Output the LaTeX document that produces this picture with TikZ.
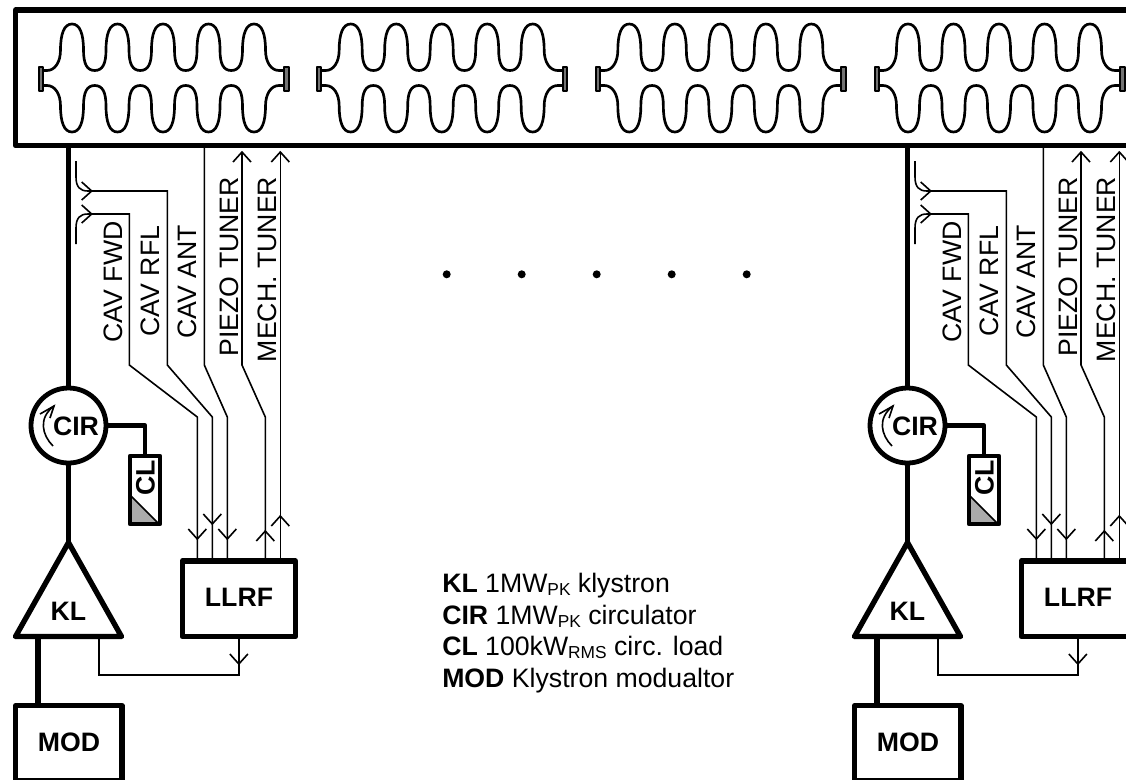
\documentclass[tikz,border=0pt]{standalone}
\usepackage{fontspec}
\setmainfont{Liberation Sans}
\newcommand{\lblfont}{\fontsize{20}{22}\selectfont}
\newcommand{\lsub}[1]{\raisebox{-2.4pt}{\fontsize{13}{14}\selectfont #1}}
% open arrow tips drawn on a line: x, y of the tip
\newcommand{\tipdown}[2]{\draw[sig] ({#1-9},{#2-10}) -- (#1,#2) -- ({#1+9},{#2-10});}
\newcommand{\tipup}[2]{\draw[sig] ({#1-9},{#2+10}) -- (#1,#2) -- ({#1+9},{#2+10});}
\newcommand{\tipright}[2]{\draw[sig] ({#1-10},{#2-9}) -- (#1,#2) -- ({#1-10},{#2+9});}
\newcommand{\halfcavity}[1]{%
  \begin{scope}[shift={(0,78)},yscale=#1]
    \draw[cavline] (42,-7.5) -- (47,-7.5) .. controls (55,-7.5) and (60.5,-16) .. (60.5,-28)
      .. controls (60.5,-44) and (64,-54) .. (72,-54)
      \foreach \k [evaluate=\k as \c using 72+45.5*\k] in {0,1,2,3} {
        .. controls ({\c+8},-54) and ({\c+11.5},-44) .. ({\c+11.5},-28)
        .. controls ({\c+11.5},-14) and ({\c+15},-7.5) .. ({\c+22.75},-7.5)
        .. controls ({\c+30.5},-7.5) and ({\c+34},-14) .. ({\c+34},-28)
        .. controls ({\c+34},-44) and ({\c+37.5},-54) .. ({\c+45.5},-54)
      }
      .. controls (262,-54) and (265.5,-44) .. (265.5,-28)
      .. controls (265.5,-16) and (271,-7.5) .. (279,-7.5) -- (285,-7.5);
  \end{scope}}
\tikzset{
  heavy/.style={line width=4pt,line join=round},
  medium/.style={line width=3.6pt,line join=round},
  sig/.style={line width=1.2pt,line join=miter},
  cavline/.style={line width=2pt,line cap=round},
  flange/.style={line width=1.5pt,fill=black!55,draw=black,line join=round},
  block/.style={draw,heavy,rectangle,inner sep=0pt,outer sep=0pt},
  lbl/.style={font=\lblfont,inner sep=0pt,text height=14.3pt,text depth=0pt},
  blbl/.style={lbl,font=\lblfont\bfseries},
  legend/.style={font=\lblfont,inner sep=0pt,anchor=base west},
}
\begin{document}
\begin{tikzpicture}[x=0.75pt,y=-0.75pt]
\useasboundingbox (0,0) rectangle (1126,779);
\clip (0,0) rectangle (1126,779);
\fill[white] (0,0) rectangle (1126,779);
% cryomodule
\node[block,minimum width=1184.5*0.75pt,minimum height=135.7*0.75pt] (cryo) at (607.75,77.85) {};
% cavities
\foreach \cav in {0,1,2,3} {
  \begin{scope}[xshift=\cav*278.67*0.75pt]
    \halfcavity{1}
    \halfcavity{-1}
    \draw[flange] (38.5,66.5) rectangle (42.5,90.5);
    \draw[flange] (284,66.5) rectangle (288.5,90.5);
  \end{scope}
}
% dots
\foreach \i in {0,...,4} {
  \fill ({446.7+75*\i},274.3) circle (4);
}
% the two RF stations
\foreach \o/\p in {0/a,839/b} {
\begin{scope}[xshift=\o*0.75pt]
  % blocks
  \node[draw,medium,circle,inner sep=0pt,outer sep=0pt,minimum size=75*0.75pt] (\p-cir) at (68.5,425.5) {};
  \node[blbl] (\p-cirt) at (76,425.5) {CIR};
  \fill[black!33] (131,496) -- (158,523) -- (131,523) -- cycle;
  \node[draw,line width=3.2pt,line join=round,rectangle,inner sep=0pt,outer sep=0pt,
        minimum width=30*0.75pt,minimum height=68*0.75pt] (\p-cl) at (145,490) {};
  \draw[line width=1.1pt] (131,496) -- (158,523);
  \node[blbl,rotate=90] (\p-clt) at (145,477.5) {CL};
  \node[block,minimum width=113.3*0.75pt,minimum height=75.5*0.75pt] (\p-llrf) at (238.85,598.75) {};
  \node[blbl] (\p-llrft) at (239,597) {LLRF};
  \node[block,minimum width=106.5*0.75pt,minimum height=75.3*0.75pt] (\p-mod) at (68.75,743.35) {};
  \node[blbl] (\p-modt) at (69,741.6) {MOD};
  \coordinate (\p-apex) at (68.5,542.5);
  \coordinate (\p-bl) at (15.5,636.5);
  \coordinate (\p-br) at (121.5,636.5);
  \draw[heavy] (\p-apex) -- (\p-br) -- (\p-bl) -- cycle;
  \node[blbl] (\p-klt) at (68.5,610.7) {KL};
  % heavy RF line
  \draw[heavy] (cryo.south -| \p-cir.north) -- (\p-cir.north);
  \draw[medium] (\p-cir.south) -- (\p-apex);
  \coordinate (\p-klmod) at (38,636.5);
  \draw[heavy] (\p-klmod) -- (\p-klmod |- \p-mod.north);
  \coordinate (\p-clk) at (\p-cl.north |- \p-cir.east);
  \draw[medium] (\p-cir.east) -- (\p-clk) -- (\p-cl.north);
  % circulator direction
  \draw[line width=1.2pt] (53,446) .. controls (42,435) and (38,418) .. (54,406);
  \draw[line width=1.2pt] (40,414) -- (54,406) -- (50,418);
  % klystron drive
  \coordinate (\p-fb) at (98.7,636.5);
  \coordinate (\p-fbc) at (\p-llrf.south |- 0,675);
  \draw[sig] (\p-fb) |- (\p-fbc) -- (\p-llrf.south);
  \tipdown{238.85}{664}
  % signal lines
  \coordinate (\p-in1) at (197.3,561);
  \coordinate (\p-in2) at (212.3,561);
  \coordinate (\p-in3) at (227.3,561);
  \coordinate (\p-out1) at (265.3,561);
  \coordinate (\p-out2) at (280.3,561);
  \coordinate (\p-fwd) at (76,244);
  \coordinate (\p-rfl) at (76,161);
  \coordinate (\p-tipa) at (242,152);
  \coordinate (\p-tipb) at (280.3,152);
  \draw[sig] (\p-fwd) -- (76,228) .. controls (76,218) and (80,214) .. (88,214)
     -- (129.3,214) -- (129.3,365) -- (197.3,417) -- (\p-in1);
  \draw[sig] (\p-rfl) -- (76,177) .. controls (76,187) and (80,191) .. (88,191)
     -- (167.3,191) -- (167.3,365) -- (212.3,417) -- (\p-in2);
  \draw[sig] (204.3,145.7) -- (204.3,365) -- (227.3,417) -- (\p-in3);
  \draw[sig] (\p-tipa) -- (242,365) -- (265.3,417) -- (\p-out1);
  \draw[sig] (\p-tipb) -- (\p-out2);
  \tipright{91.7}{191}
  \tipright{91.7}{214}
  \tipup{242}{152}
  \tipup{280.3}{152}
  \tipdown{197.3}{539}
  \tipdown{212.3}{524}
  \tipdown{227.3}{539}
  \tipup{265.3}{531}
  \tipup{280.3}{516}
  % signal labels
  \node[lbl,rotate=90] (\p-l1) at (112.7,282) {CAV FWD};
  \node[lbl,rotate=90] (\p-l2) at (150,281) {CAV RFL};
  \node[lbl,rotate=90] (\p-l3) at (187.3,281.5) {CAV ANT};
  \node[lbl,rotate=90] (\p-l4) at (229.3,266.7) {PIEZO TUNER};
  \node[lbl,rotate=90] (\p-l5) at (266.7,269.5) {MECH. TUNER};
\end{scope}
}
% legend
\node[legend] (leg1) at (442,592.3) {\textbf{KL} 1MW\lsub{PK} klystron};
\node[legend] (leg2) at (442,624) {\textbf{CIR} 1MW\lsub{PK} circulator};
\node[legend] (leg3) at (442,655.7) {\textbf{CL} 100kW\lsub{RMS} circ. load};
\node[legend] (leg4) at (442,687.3) {\textbf{MOD} Klystron modualtor};
\end{tikzpicture}
\end{document}
